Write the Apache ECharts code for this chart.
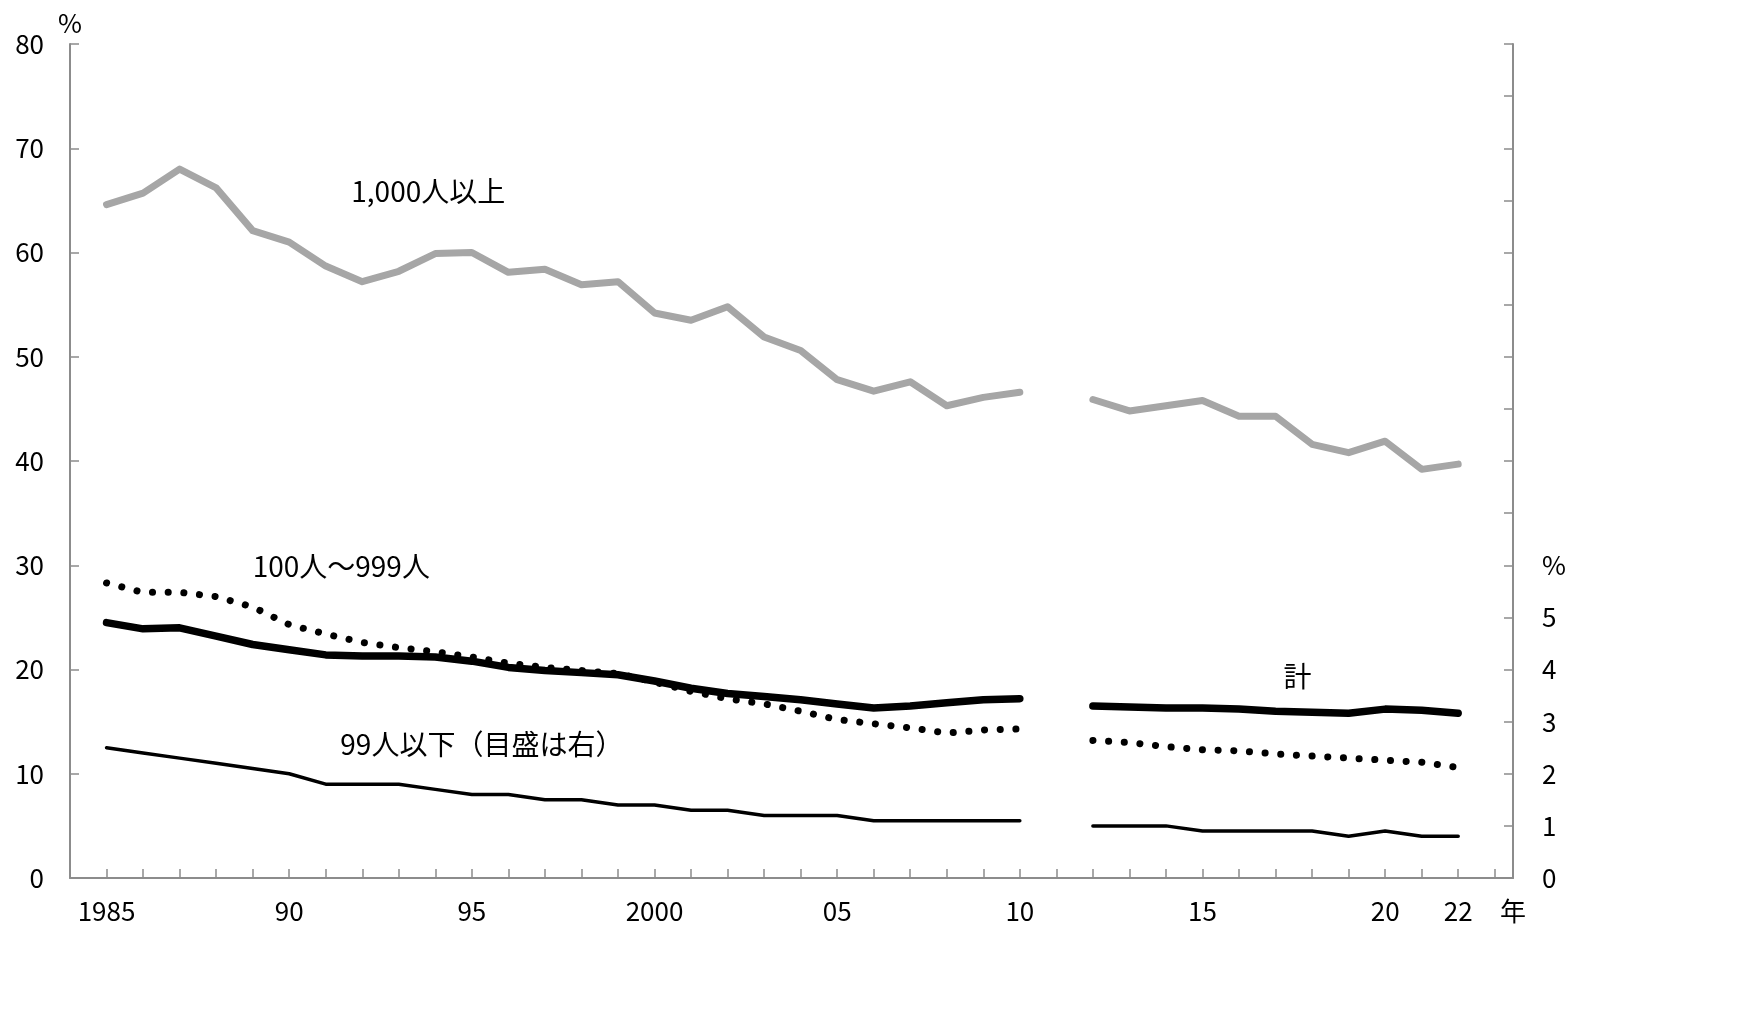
<!DOCTYPE html>
<html>
<head>
<meta charset="utf-8">
<script src="https://cdn.jsdelivr.net/npm/echarts@6/dist/echarts.min.js"></script>
<style>
html,body{margin:0;padding:0;background:#fff;}
#main{width:1744px;height:1032px;}
</style>
</head>
<body>
<div id="main"></div>
<script>
// ---- data ----
const years = [1985,1986,1987,1988,1989,1990,1991,1992,1993,1994,1995,1996,1997,1998,1999,2000,2001,2002,2003,2004,2005,2006,2007,2008,2009,2010,2011,2012,2013,2014,2015,2016,2017,2018,2019,2020,2021,2022];
// 1,000人以上 (left axis)
const large = [64.6,65.7,68.0,66.2,62.1,61.0,58.7,57.2,58.2,59.9,60.0,58.1,58.4,56.9,57.2,54.2,53.5,54.8,51.9,50.6,47.8,46.7,47.6,45.3,46.1,46.6,null,45.9,44.8,45.3,45.8,44.3,44.3,41.6,40.8,41.9,39.2,39.7];
// 計 (left axis)
const total = [24.5,23.9,24.0,23.2,22.4,21.9,21.4,21.3,21.3,21.2,20.8,20.2,19.9,19.7,19.5,18.9,18.2,17.7,17.4,17.1,16.7,16.3,16.5,16.8,17.1,17.2,null,16.5,16.4,16.3,16.3,16.2,16.0,15.9,15.8,16.2,16.1,15.8];
// 100人～999人 (left axis)
const medium = [28.3,27.4,27.4,27.0,26.0,24.3,23.4,22.6,22.1,21.7,21.2,20.6,20.2,19.9,19.6,18.8,17.9,17.2,16.7,16.0,15.2,14.8,14.4,13.9,14.2,14.3,null,13.2,13.0,12.6,12.3,12.2,11.9,11.7,11.5,11.3,11.1,10.6];
// 99人以下 (right axis)
const small = [2.5,2.4,2.3,2.2,2.1,2.0,1.8,1.8,1.8,1.7,1.6,1.6,1.5,1.5,1.4,1.4,1.3,1.3,1.2,1.2,1.2,1.1,1.1,1.1,1.1,1.1,null,1.0,1.0,1.0,0.9,0.9,0.9,0.9,0.8,0.9,0.8,0.8];
const xTickYears = [1985,1986,1987,1988,1989,1990,1991,1992,1993,1994,1995,1996,1997,1998,1999,2000,2001,2002,2003,2004,2005,2006,2007,2008,2009,2010,2011,2012,2013,2014,2015,2016,2017,2018,2019,2020,2021,2022,2023];
const xLabelYears = [1985,1990,1995,2000,2005,2010,2015,2020,2022];
const xUnitLabel = '年';
const leftTicks = [0,10,20,30,40,50,60,70,80];
const rightLabels = [0,1,2,3,4,5];
const seriesNames = ['1,000人以上','計','100人～999人','99人以下（目盛は右）'];

const FONT = '"Noto Sans CJK JP", "Noto Sans", sans-serif';
const AXIS_COLOR = '#8c8c8c';
const AXFS = 26;

function pair(arr){ return years.map((y,i)=>[y, arr[i]]); }

const chart = echarts.init(document.getElementById('main'), null, {renderer:'canvas'});
const XMAX = 2023.5;

const option = {
  animation:false,
  backgroundColor:'#fff',
  textStyle:{fontFamily:FONT},
  grid:{left:70,right:231,top:44,bottom:154,containLabel:false},
  xAxis:{
    type:'value', min:1984, max:XMAX,
    splitLine:{show:false},
    axisLine:{show:true,lineStyle:{color:AXIS_COLOR,width:2}},
    axisTick:{show:true,inside:true,length:9,customValues:xTickYears,lineStyle:{color:AXIS_COLOR,width:1.5}},
    axisLabel:{
      customValues:xLabelYears.concat([XMAX]),
      margin:20, color:'#000', fontSize:AXFS, fontFamily:FONT,
      formatter:function(v){
        if (v === XMAX) return xUnitLabel;
        if (v === 1985 || v === 2000) return String(v);
        return String(v % 100).padStart(2,'0');
      }
    }
  },
  yAxis:[{
    type:'value', min:0, max:80, interval:10, position:'left',
    name:'%', nameLocation:'end', nameGap:8,
    nameTextStyle:{color:'#000',fontSize:AXFS,fontFamily:FONT,align:'center'},
    splitLine:{show:false},
    axisLine:{show:true,lineStyle:{color:AXIS_COLOR,width:2}},
    axisTick:{show:true,inside:true,length:9,lineStyle:{color:AXIS_COLOR,width:1.5}},
    axisLabel:{color:'#000',fontSize:AXFS,margin:26,fontFamily:FONT}
  },{
    type:'value', min:0, max:16, interval:1, position:'right',
    splitLine:{show:false},
    axisLine:{show:true,lineStyle:{color:AXIS_COLOR,width:2}},
    axisTick:{show:true,inside:true,length:9,lineStyle:{color:AXIS_COLOR,width:1.5}},
    axisLabel:{color:'#000',fontSize:AXFS,margin:29,fontFamily:FONT,
      formatter:function(v){
        if (rightLabels.indexOf(v) >= 0) return String(v);
        if (v === 6) return '%';
        return '';
      }
    }
  }],
  series:[
    {name:seriesNames[0], type:'line', data:pair(large), yAxisIndex:0, symbol:'none', connectNulls:false,
     lineStyle:{color:'#a6a6a6',width:7,cap:'round',join:'round'}},
    {name:seriesNames[1], type:'line', data:pair(total), yAxisIndex:0, symbol:'none', connectNulls:false,
     lineStyle:{color:'#000',width:7.5,cap:'round',join:'round'}},
    {name:seriesNames[2], type:'line', data:pair(medium), yAxisIndex:0, symbol:'none', connectNulls:false,
     lineStyle:{color:'#000',width:7,type:[0.1,15.6],cap:'round',join:'round'}},
    {name:seriesNames[3], type:'line', data:pair(small), yAxisIndex:1, symbol:'none', connectNulls:false,
     lineStyle:{color:'#000',width:3.5,cap:'round',join:'round'}}
  ]
};
chart.setOption(option);

// series name annotations, anchored in data coordinates
const annotations = [
  {text:seriesNames[0], at:[1991.7, 65.9], align:'left'},
  {text:seriesNames[2], at:[1989.0, 29.9], align:'left'},
  {text:seriesNames[3], at:[1991.4, 12.8], align:'left'},
  {text:seriesNames[1], at:[2017.6, 19.3], align:'center'}
];
const g = annotations.map(a=>{
  const p = chart.convertToPixel({xAxisIndex:0,yAxisIndex:0}, a.at);
  return {type:'text', x:p[0], y:p[1], style:{text:a.text, fill:'#000', fontSize:28, fontFamily:FONT, align:a.align, verticalAlign:'middle'}};
});
chart.setOption({graphic:g});
</script>
</body>
</html>
